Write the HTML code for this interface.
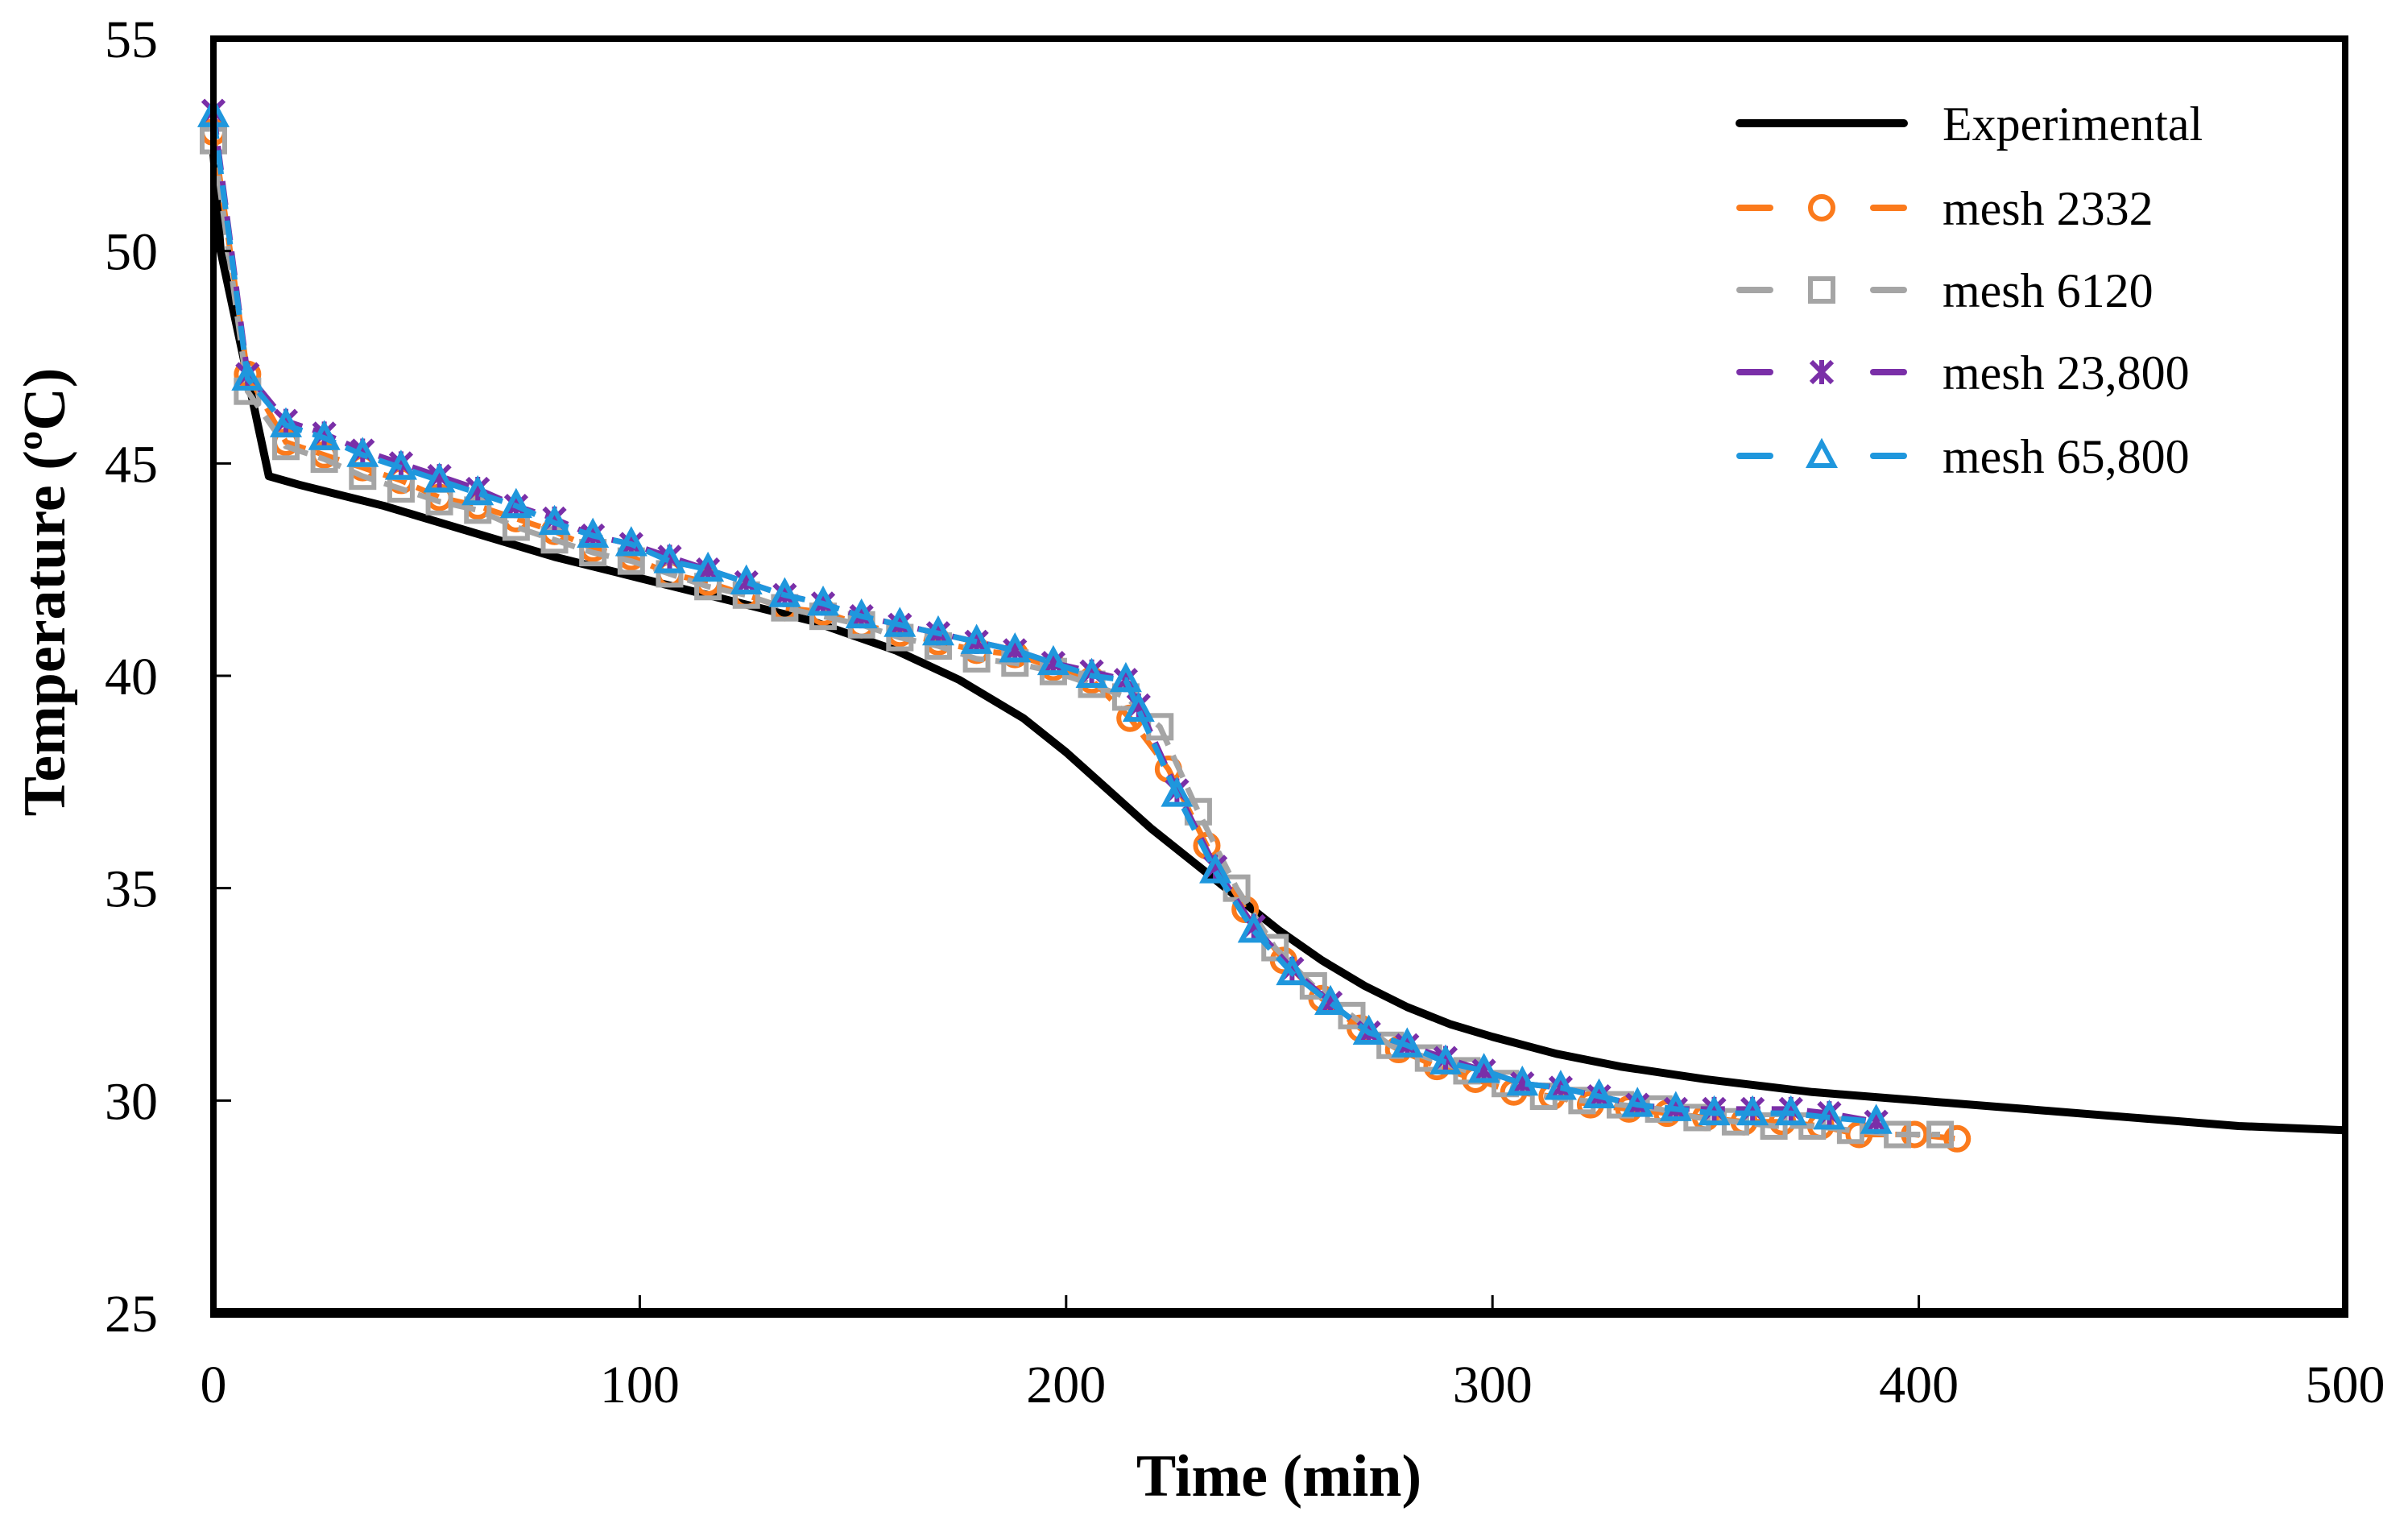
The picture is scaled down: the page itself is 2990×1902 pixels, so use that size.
<!DOCTYPE html>
<html><head><meta charset="utf-8"><style>
html,body{margin:0;padding:0;background:#fff;}
svg{display:block;font-family:"Liberation Serif",serif;}
</style></head><body>
<svg id="chart" width="2990" height="1902" viewBox="0 0 2990 1902" xmlns="http://www.w3.org/2000/svg">
<rect width="2990" height="1902" fill="#fff"/>
<g id="marks"></g>
<rect x="265" y="48" width="2647" height="1582" fill="none" stroke="#000" stroke-width="8"/>
<line x1="261" y1="1630" x2="2916" y2="1630" stroke="#000" stroke-width="12"/>
<g id="axes"></g>
<text x="1588" y="1857" font-size="74" font-weight="bold" text-anchor="middle">Time (min)</text>
<text transform="translate(80,735) rotate(-90)" font-size="74" font-weight="bold" text-anchor="middle">Temperature (ºC)</text>
<g id="legend"></g>
</svg>
<script>
const xTicks=[0,100,200,300,400,500];
const yTicks=[25,30,35,40,45,50,55];
const expT=[0,1.7,13,20,40,60,80,100,120,140,160,175,190,200,210,220,230,240,250,260,270,280,290,300,315,330,350,375,400,425,450,475,500];
const expV=[52.3,50,44.7,44.5,44,43.4,42.8,42.3,41.8,41.3,40.6,39.9,39,38.2,37.3,36.4,35.6,34.8,34,33.3,32.7,32.2,31.8,31.5,31.1,30.8,30.5,30.2,30,29.8,29.6,29.4,29.3];
const tA=[0,8,17,26,35,44,53,62,71,80,89,98,107,116,125,134,143,152,161,170,179,188,197,206,214,217,226,235,244,253,262,271,280,289,298,307,316,325,334,343,352,361,370,379,390];
const v65800=[53.2,47,45.9,45.6,45.2,44.9,44.6,44.3,44,43.6,43.3,43.1,42.7,42.5,42.2,41.9,41.7,41.4,41.2,41,40.8,40.6,40.3,40,39.9,39.2,37.2,35.4,34,33,32.3,31.6,31.3,30.9,30.7,30.4,30.3,30.1,29.9,29.8,29.7,29.7,29.7,29.6,29.5];
const v23800=[53.3,47.1,46,45.7,45.3,45,44.7,44.4,44,43.7,43.3,43.1,42.8,42.5,42.2,41.9,41.7,41.4,41.2,41,40.8,40.6,40.3,40.1,39.9,39.3,37.3,35.5,34.1,33.1,32.3,31.6,31.3,31,30.7,30.4,30.3,30.1,29.9,29.8,29.8,29.8,29.8,29.7,29.5];
const t2332=[0,8,17,26,35,44,53,62,71,80,89,98,107,116,125,134,143,152,161,170,179,188,197,206,215,224,233,242,251,260,269,278,287,296,305,314,323,332,341,350,359,368,377,386,399,409];
const v2332=[52.8,47.1,45.5,45.2,44.9,44.6,44.2,44,43.7,43.4,43,42.8,42.4,42.2,41.9,41.6,41.5,41.2,41,40.8,40.6,40.5,40.2,39.9,39,37.8,36,34.5,33.3,32.4,31.7,31.2,30.8,30.5,30.2,30.1,29.9,29.8,29.7,29.6,29.5,29.5,29.4,29.2,29.2,29.1];
const t6120=[0,8,17,26,35,44,53,62,71,80,89,98,107,116,125,134,143,152,161,170,179,188,197,206,214,222,231,240,249,258,267,276,285,294,303,312,321,330,339,348,357,366,375,384,395,405];
const v6120=[52.6,46.7,45.4,45.1,44.7,44.4,44.1,43.9,43.5,43.2,42.9,42.7,42.4,42.1,41.9,41.6,41.4,41.2,40.9,40.7,40.4,40.3,40.1,39.8,39.5,38.8,36.8,35,33.6,32.7,32,31.3,31,30.7,30.4,30.1,30,29.9,29.8,29.6,29.5,29.4,29.4,29.3,29.2,29.2];
const X=t=>265+t*2647/500;
const Y=v=>1630-(v-25)*1582/30;
const NS='http://www.w3.org/2000/svg';
function mk(tag,attrs,parent){const e=document.createElementNS(NS,tag);for(const k in attrs)e.setAttribute(k,attrs[k]);parent.appendChild(e);return e;}
const axes=document.getElementById('axes'),marks=document.getElementById('marks'),legend=document.getElementById('legend');
xTicks.forEach(t=>{
  const l=mk('line',{x1:X(t),x2:X(t),y1:1630,y2:1608,stroke:'#000','stroke-width':3},axes);
  
  
  const tx=mk('text',{x:X(t),y:1741,'font-size':66,'text-anchor':'middle'},axes);
  tx.textContent=t;
  
  
});
yTicks.forEach(v=>{
  const l=mk('line',{x1:265,x2:287,y1:Y(v),y2:Y(v),stroke:'#000','stroke-width':3},axes);
  
  
  const tx=mk('text',{x:196,y:Y(v)+23,'font-size':66,'text-anchor':'end'},axes);
  tx.textContent=v;
  
  
});
function marker(type,x,y,col,g){
  if(type==='circle')return mk('circle',{cx:x,cy:y,r:14,fill:'none',stroke:col,'stroke-width':6},g);
  if(type==='square')return mk('rect',{x:x-14,y:y-14,width:28,height:28,fill:'none',stroke:col,'stroke-width':6},g);
  if(type==='star')return mk('path',{d:`M${x-13},${y-13}L${x+13},${y+13}M${x+13},${y-13}L${x-13},${y+13}M${x},${y-15}L${x},${y+15}`,stroke:col,'stroke-width':6,fill:'none'},g);
  return mk('path',{d:`M${x},${y-16}L${x+15},${y+12}L${x-15},${y+12}Z`,fill:'none',stroke:col,'stroke-width':6},g);
}
const series=[
 {name:'mesh-2332',t:t2332,v:v2332,col:'#fb7a1c',m:'circle',label:'mesh 2332'},
 {name:'mesh-6120',t:t6120,v:v6120,col:'#a5a5a5',m:'square',label:'mesh 6120'},
 {name:'mesh-23800',t:tA,v:v23800,col:'#7a2fa8',m:'star',label:'mesh 23,800'},
 {name:'mesh-65800',t:tA,v:v65800,col:'#1f97dd',m:'tri',label:'mesh 65,800'}
];
const ep=mk('polyline',{points:expT.map((t,i)=>X(t)+','+Y(expV[i])).join(' '),fill:'none',stroke:'#000','stroke-width':10,'stroke-linejoin':'round'},marks);


series.forEach(s=>{
  const g=mk('g',{},marks);
  
  
  mk('polyline',{points:s.t.map((t,i)=>X(t)+','+Y(s.v[i])).join(' '),fill:'none',stroke:s.col,'stroke-width':7,'stroke-dasharray':'30 14'},g);
  s.t.forEach((t,i)=>{
    const m=marker(s.m,X(t),Y(s.v[i]),s.col,g);
    
    
  });
});
const rows=[{label:'Experimental',col:'#000'}].concat(series);
const ry=[153,258,360,462,566];
rows.forEach((r,i)=>{
  const g=mk('g',{},legend);
  
  
  if(i===0){mk('line',{x1:2160,x2:2364,y1:ry[i],y2:ry[i],stroke:'#000','stroke-width':10,'stroke-linecap':'round'},g);}
  else{
    mk('line',{x1:2160,x2:2198,y1:ry[i],y2:ry[i],stroke:r.col,'stroke-width':8,'stroke-linecap':'round'},g);
    mk('line',{x1:2326,x2:2364,y1:ry[i],y2:ry[i],stroke:r.col,'stroke-width':8,'stroke-linecap':'round'},g);
    marker(r.m,2262,ry[i],r.col,g);
  }
  const tx=mk('text',{x:2412,y:ry[i]+21,'font-size':60},g);
  tx.textContent=r.label;
});
</script>
</body></html>
